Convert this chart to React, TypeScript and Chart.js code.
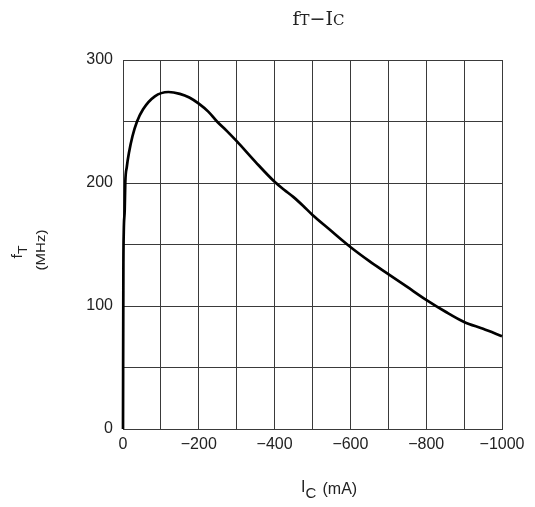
import React, { useEffect, useRef } from "react";
import { Chart, registerables } from "chart.js";

Chart.register(...registerables);

// Collector current (mA) and transition frequency (MHz)
const icValues = [0, -1, -2, -4.5, -6, -10, -16, -25, -37, -53, -84, -120, -150, -175, -200, -225, -248, -275, -300, -350, -400, -425, -450, -475, -500, -542, -600, -650, -700, -750, -800, -850, -900, -950, -1000];
const ftValues = [0, 130, 160, 178, 200, 213, 225, 238, 250, 260, 270.5, 274, 272.5, 269.5, 264.5, 258, 250, 242, 234, 217, 201, 194.5, 188.5, 181.5, 174, 163, 148, 136.5, 126, 115.5, 105, 95.5, 87, 81.5, 75.5];

const xMin = -1000;
const xMax = 0;
const xStep = 100;
const yMin = 0;
const yMax = 300;
const yStep = 50;

// Title and axis title texts (segments: [text, isSmall/subscript])
const titleSegments: [string, boolean][] = [["f", false], ["T", true], ["\u2212", false], ["I", false], ["C", true]];
const yTitleMain = "f";
const yTitleSub = "T";
const yTitleUnit = "(MHz)";
const xTitleMain = "I";
const xTitleSub = "C";
const xTitleUnit = "(mA)";

const SANS = "'Liberation Sans', Arial, sans-serif";
const SERIF = "'DejaVu Serif', 'Liberation Serif', serif";

const textPlugin = {
  id: "customTexts",
  afterDraw(chart: any) {
    const ctx = chart.ctx as CanvasRenderingContext2D;
    ctx.save();
    ctx.fillStyle = "#222";
    ctx.textBaseline = "alphabetic";
    ctx.textAlign = "left";

    // Title
    const bigT = `19px ${SERIF}`;
    const smallT = `15px ${SERIF}`;
    let total = 0;
    const widths = titleSegments.map(([t, s]) => {
      ctx.font = s ? smallT : bigT;
      const w = ctx.measureText(t).width;
      total += w;
      return w;
    });
    let x = 310.5 - total / 2;
    titleSegments.forEach(([t, s], i) => {
      ctx.font = s ? smallT : bigT;
      ctx.fillText(t, x, 17);
      x += widths[i];
    });

    // X axis title
    ctx.font = `16px ${SANS}`;
    let xx = 293;
    ctx.fillText(xTitleMain, xx, 484);
    xx += ctx.measureText(xTitleMain).width;
    ctx.font = `15px ${SANS}`;
    ctx.fillText(xTitleSub, xx, 490.3);
    ctx.font = `16px ${SANS}`;
    ctx.fillText(xTitleUnit, 314.5, 486);

    // Y axis title (rotated)
    ctx.save();
    ctx.rotate(-Math.PI / 2);
    ctx.font = `15px ${SANS}`;
    const centerY = 242;
    ctx.textAlign = "center";
    ctx.save();
    ctx.translate(-centerY, 37);
    ctx.scale(1, 0.85);
    ctx.fillText(yTitleUnit, 0, 0);
    ctx.restore();

    ctx.textAlign = "left";
    ctx.save();
    ctx.translate(-250.5, 14.2);
    ctx.scale(1, 0.9);
    ctx.font = `16px ${SANS}`;
    const fw = ctx.measureText(yTitleMain).width;
    ctx.fillText(yTitleMain, 0, 0);
    ctx.font = `14px ${SANS}`;
    ctx.fillText(yTitleSub, fw, 5);
    ctx.restore();
    ctx.restore();

    ctx.restore();
  },
};

export default function App() {
  const ref = useRef<HTMLCanvasElement | null>(null);

  useEffect(() => {
    if (!ref.current) return;
    const chart = new Chart(ref.current, {
      type: "line",
      data: {
        datasets: [
          {
            data: icValues.map((v, i) => ({ x: v, y: ftValues[i] })),
            borderColor: "#000",
            borderWidth: 2.7,
            pointRadius: 0,
            fill: false,
            cubicInterpolationMode: "monotone",
            clip: 6,
          } as any,
        ],
      },
      options: {
        animation: false,
        responsive: true,
        maintainAspectRatio: false,
        devicePixelRatio: 1,
        layout: { padding: { top: 52, right: 25, left: 0, bottom: 0 } },
        plugins: {
          legend: { display: false },
          title: { display: false },
          tooltip: { enabled: false },
        },
        scales: {
          x: {
            type: "linear",
            min: xMin,
            max: xMax,
            reverse: true,
            afterFit: (s: any) => {
              s.height = 70;
              s.paddingRight = 0;
              s.paddingLeft = 0;
            },
            grid: { color: "#3a3a3a", lineWidth: 1, drawTicks: false },
            border: { color: "#3a3a3a", width: 1 },
            ticks: {
              stepSize: xStep,
              autoSkip: false,
              maxRotation: 0,
              padding: 6,
              color: "#222",
              font: { family: SANS, size: 16 },
              callback: (v: any) => {
                const n = Number(v);
                if (Math.round(n) % 200 !== 0) return "";
                return n === 0 ? "0" : "\u2212" + Math.abs(n);
              },
            },
          },
          y: {
            type: "linear",
            min: yMin,
            max: yMax,
            afterFit: (s: any) => {
              s.width = 115;
            },
            grid: { color: "#3a3a3a", lineWidth: 1, drawTicks: false },
            border: { color: "#3a3a3a", width: 1 },
            ticks: {
              stepSize: yStep,
              padding: 10,
              color: "#222",
              font: { family: SANS, size: 16 },
              callback: (v: any) => (Number(v) % 100 === 0 ? String(v) : ""),
            },
          },
        },
      },
      plugins: [textPlugin],
    });
    return () => chart.destroy();
  }, []);

  return (
    <div style={{ width: 519, height: 491, position: "relative" }}>
      <canvas ref={ref} />
    </div>
  );
}
